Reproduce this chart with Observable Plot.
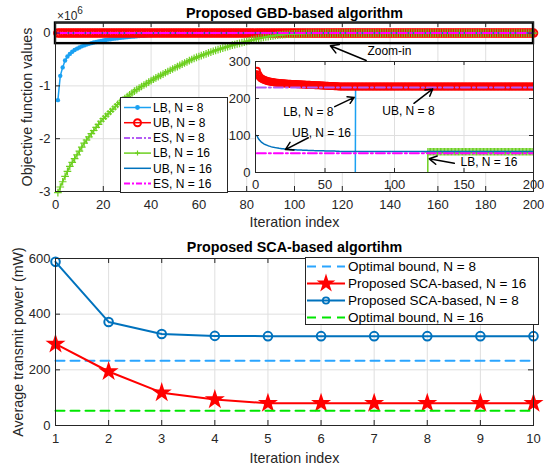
<!DOCTYPE html>
<html><head><meta charset="utf-8">
<script src="https://cdn.jsdelivr.net/npm/d3@7"></script>
<script src="https://cdn.jsdelivr.net/npm/@observablehq/plot@0.6"></script>
<style>
body{margin:0;background:#fff;font-family:"Liberation Sans",Arial,Helvetica,sans-serif;}
#root{position:relative;width:544px;height:466px;overflow:hidden;background:#fff}
</style></head><body><div id="root"></div>
<script>
// ================= DATA =================
// --- Top panel: Proposed GBD-based algorithm (iteration index 1..200) ---
const gbdIterMax = 200;
// LB, N = 8 before convergence (iterations 1..71), values in units of 10^3
const lbN8Pre = [
  -1270,-810,-650,-520,-445,-395,-355,-322,-295,-272,
  -252,-234,-218,-204,-191,-179,-168,-158,-149,-140,
  -132,-124,-117,-110,-104,-98,-92,-87,-82,-77,
  -73,-68,-64,-60,-56,-53,-50,-46,-43,-40,
  -37,-35,-32,-30,-28,-26,-24,-22,-20,-19,
  -17,-16,-15,-13,-12,-11,-10,-9,-8,-7,
  -7,-6,-5,-5,-4,-4,-3,-3,-2,-2,-1];
const lbN8ConvIter = 72, lbN8Conv = 232.5;
// UB, N = 8 (iterations 1..60), converged value afterwards
const ubN8Pre = [
  275,265,259,255,252.5,250.5,249,247.8,246.8,246,
  245.2,244.5,243.9,243.4,242.9,242.5,242.1,241.7,241.4,241.1,
  240.8,240.5,240.2,240,239.7,239.5,239.3,239.1,238.9,238.7,
  238.5,238.3,238.1,237.9,237.7,237.5,237.3,237.1,236.9,236.7,
  236.5,236.3,236.1,235.9,235.7,235.5,235.3,235.1,234.9,234.7,
  234.5,234.3,234.1,233.9,233.7,233.5,233.3,233.1,232.9,232.7];
const ubN8Tail = 232.5;
const esN8 = 230;
// LB, N = 16 before convergence (iterations 1..123), values in units of 10^3
const lbN16Pre = [
  -3020,-2915,-2815,-2715,-2620,-2525,-2450,-2378,-2305,-2235,
  -2160,-2085,-2025,-1965,-1905,-1845,-1785,-1728,-1670,-1622,
  -1575,-1530,-1485,-1440,-1395,-1350,-1312,-1276,-1240,-1205,
  -1170,-1135,-1100,-1070,-1040,-1012,-984,-956,-928,-900,
  -874,-849,-824,-800,-776,-752,-728,-704,-680,-657,
  -634,-611,-589,-567,-545,-523,-501,-480,-462,-444,
  -427,-410,-393,-376,-360,-344,-328,-313,-298,-284,
  -270,-256,-243,-230,-218,-206,-194,-182,-170,-158,
  -146,-135,-124,-113,-103,-93,-84,-75,-67,-59,
  -52,-46,-40,-35,-30,-26,-22,-19,-16,-14,
  -12,-10,-9,-8,-7,-6,-5,-4,-4,-3,
  -3,-3,-2,-2,-2,-2,-1,-1,-1,-1,
  -1,-1,-1];
const lbN16ConvIter = 124, lbN16Conv = 56;
// UB, N = 16 (iterations 1..60), converged value afterwards
const ubN16Pre = [
  100,92,87,83,80,77.5,75.5,74,72.5,71.2,
  70,69,68.1,67.3,66.6,66,65.4,64.9,64.4,64,
  63.6,63.2,62.9,62.6,62.3,62,61.8,61.5,61.3,61.1,
  60.9,60.7,60.5,60.3,60.2,60,59.9,59.7,59.6,59.5,
  59.4,59.2,59.1,59,58.9,58.8,58.7,58.6,58.5,58.4,
  58.3,58.2,58.1,58,58,57.9,57.8,57.7,57.7,57.6];
const ubN16Tail = 56.5;
const esN16 = 52;
const mainXTicks = [0,20,40,60,80,100,120,140,160,180,200];
const mainYTicks = [-3,-2,-1,0];          // x 10^6
const insetXTicks = [0,50,100,150,200];
const insetYTicks = [0,100,200,300];

// --- Bottom panel: Proposed SCA-based algorithm ---
const scaIter = [1,2,3,4,5,6,7,8,9,10];
const scaN8  = [588,372,329,322,321,321,321,321,321,321];
const scaN16 = [293,194,118,93,80,80,80,80,80,80];
const optN8 = 233, optN16 = 53;
const scaYTicks = [0,200,400,600];

// ================= STYLE =================
const FONT = '"Liberation Sans", Arial, Helvetica, sans-serif';
const AX = "#262626", GRID = "#dfdfdf";
const C = {lb8:"#1ba1f2", ub8:"#ff0000", es8:"#b45cf5", lb16:"#6ccf1f", ub16:"#0072bd", es16:"#ff00ff",
           opt8:"#2aa5ff", opt16:"#00e600", sca16:"#ff0000", sca8:"#0072bd"};
const DASHDOT = "9,3,2,3", DASH = "9,6";

const root = document.getElementById("root");
function place(el, left, top){ el.style.position="absolute"; el.style.left=left+"px"; el.style.top=top+"px"; root.appendChild(el); return el; }

// ================= SERIES =================
const iters = d3.range(1, gbdIterMax + 1);
const lbN8 = iters.map(i => ({i, v: i < lbN8ConvIter ? lbN8Pre[i-1]*1e3 : lbN8Conv}));
const ubN8 = iters.map(i => ({i, v: i <= ubN8Pre.length ? ubN8Pre[i-1] : ubN8Tail}));
const lbN16 = iters.map(i => ({i, v: i < lbN16ConvIter ? lbN16Pre[i-1]*1e3 : lbN16Conv}));
const ubN16 = iters.map(i => ({i, v: i <= ubN16Pre.length ? ubN16Pre[i-1] : ubN16Tail}));
const hline = val => [{i:1, v:val}, {i:gbdIterMax, v:val}];
const e6 = d => d.v / 1e6;
const hy = d => (d < 0 ? "-" + Math.abs(d) : String(d));

function inwardTicks(xt, yt, fw, fh, len=5){
  return [
    Plot.tickX(xt, {x:d=>d, stroke:AX, insetTop:fh-len}),
    Plot.tickX(xt, {x:d=>d, stroke:AX, insetBottom:fh-len}),
    Plot.tickY(yt, {y:d=>d, stroke:AX, insetRight:fw-len}),
    Plot.tickY(yt, {y:d=>d, stroke:AX, insetLeft:fw-len})
  ];
}
const baseStyle = {fontFamily:FONT, fontSize:"13px", color:AX, background:"transparent", overflow:"visible"};
const MID = {textAnchor:"middle", lineAnchor:"middle"};

// ================= TOP MAIN =================
const zoomBox = {x1:0, x2:200, y1:-0.2, y2:0.19};
const zoomArrow = {x1:130, y1:-0.52, x2:115, y2:-0.24};
const zoomText = {x:130.5, y:-0.35, label:"Zoom-in"};
const topPlot = Plot.plot({
  width:544, height:225, marginTop:22, marginBottom:34, marginLeft:55, marginRight:11,
  style:baseStyle,
  x:{domain:[0,200]}, y:{domain:[-3,0.2]},
  marks:[
    Plot.gridX(mainXTicks, {stroke:GRID, strokeOpacity:1}),
    Plot.gridY(mainYTicks, {stroke:GRID, strokeOpacity:1}),
    Plot.line(lbN8, {x:"i", y:e6, stroke:C.lb8, strokeWidth:1.5}),
    Plot.dot(lbN8, {x:"i", y:e6, fill:C.lb8, r:2.2}),
    Plot.line(ubN8, {x:"i", y:e6, stroke:C.ub8, strokeWidth:1.5}),
    Plot.dot(ubN8, {x:"i", y:e6, stroke:C.ub8, r:3.8, strokeWidth:2}),
    Plot.line(hline(esN8), {x:"i", y:e6, stroke:C.es8, strokeWidth:2, strokeDasharray:DASHDOT}),
    Plot.line(lbN16, {x:"i", y:e6, stroke:C.lb16, strokeWidth:1.5}),
    Plot.dot(lbN16, {x:"i", y:e6, stroke:C.lb16, symbol:"plus", r:2.6, strokeWidth:1.2}),
    Plot.line(ubN16, {x:"i", y:e6, stroke:C.ub16, strokeWidth:1.5}),
    Plot.line(hline(esN16), {x:"i", y:e6, stroke:C.es16, strokeWidth:2, strokeDasharray:DASHDOT}),
    Plot.rect([zoomBox], {x1:d=>d.x1, x2:d=>d.x2, y1:d=>d.y1, y2:d=>d.y2, fill:"none", stroke:"#000", strokeWidth:2.4}),
    Plot.frame({stroke:AX}),
    ...inwardTicks(mainXTicks, mainYTicks, 478, 169),
    Plot.axisX(mainXTicks, {tickSize:0, tickPadding:8, label:null}),
    Plot.axisY(mainYTicks, {tickSize:0, tickPadding:5, tickFormat:hy, label:null}),
    Plot.arrow([zoomArrow], {x1:d=>d.x1, y1:d=>d.y1, x2:d=>d.x2, y2:d=>d.y2, stroke:"#000", strokeWidth:1.5, headLength:9}),
    Plot.text([zoomText], {x:"x", y:"y", text:"label", textAnchor:"start", fontSize:12, fill:"#000"}),
    Plot.text(["Proposed GBD-based algorithm"], {...MID, frameAnchor:"top", dy:-9, fontWeight:"bold", fontSize:14.3, fill:"#000"}),
    Plot.text(["Iteration index"], {...MID, frameAnchor:"bottom", dy:31, fontSize:14.3}),
    Plot.text(["Objective function values"], {...MID, frameAnchor:"left", dx:-28, rotate:-90, fontSize:14.3})
  ]
});
place(topPlot, 0, 0);

// ×10^6 exponent label
const expo = document.createElement("div");
expo.innerHTML = '×10<sup style="font-size:10px;position:relative;top:-1px">6</sup>';
expo.style.cssText = `font-family:${FONT};font-size:12px;color:${AX};line-height:12px;`;
place(expo, 57, 6);

// ================= INSET =================
const insetNotes = [
  {x:38, y:163, label:"LB, N = 8"},
  {x:110, y:166, label:"UB, N = 8"},
  {x:47.5, y:107, label:"UB, N = 16"},
  {x:168, y:28, label:"LB, N = 16"}
];
const insetArrows = [
  {x1:57, y1:178, x2:71, y2:203},
  {x1:114, y1:187, x2:127.5, y2:226},
  {x1:38, y1:94, x2:21.5, y2:62},
  {x1:143, y1:25, x2:125, y2:37}
];
const insetPlot = Plot.plot({
  width:544, height:225, marginTop:61, marginBottom:53, marginLeft:255, marginRight:11,
  style:baseStyle,
  x:{domain:[0,200]}, y:{domain:[0,300]},
  marks:[
    Plot.frame({fill:"#fff", stroke:null}),
    Plot.gridX(insetXTicks, {stroke:GRID, strokeOpacity:1}),
    Plot.gridY(insetYTicks, {stroke:GRID, strokeOpacity:1}),
    Plot.line(lbN8, {x:"i", y:"v", stroke:C.lb8, strokeWidth:1.5, clip:true}),
    Plot.line(ubN8, {x:"i", y:"v", stroke:C.ub8, strokeWidth:1.5, clip:true}),
    Plot.dot(ubN8, {x:"i", y:"v", stroke:C.ub8, r:3, strokeWidth:2, clip:true}),
    Plot.line(hline(esN8), {x:"i", y:"v", stroke:C.es8, strokeWidth:2, strokeDasharray:DASHDOT, clip:true}),
    Plot.line(lbN16, {x:"i", y:"v", stroke:C.lb16, strokeWidth:1.5, clip:true}),
    Plot.dot(lbN16.filter(d => d.v >= 0), {x:"i", y:"v", stroke:C.lb16, symbol:"plus", r:2.6, strokeWidth:1.2, clip:true}),
    Plot.line(ubN16, {x:"i", y:"v", stroke:C.ub16, strokeWidth:1.5, clip:true}),
    Plot.line(hline(esN16), {x:"i", y:"v", stroke:C.es16, strokeWidth:2, strokeDasharray:DASHDOT, clip:true}),
    Plot.frame({stroke:AX}),
    ...inwardTicks(insetXTicks, insetYTicks, 278, 111, 4),
    Plot.axisX(insetXTicks, {tickSize:0, tickPadding:7, label:null}),
    Plot.axisY(insetYTicks, {tickSize:0, tickPadding:5, label:null}),
    Plot.arrow(insetArrows, {x1:"x1", y1:"y1", x2:"x2", y2:"y2", stroke:"#000", strokeWidth:1.5, headLength:9}),
    Plot.text(insetNotes, {x:"x", y:"y", text:"label", fontSize:12, fill:"#000"})
  ]
});
place(insetPlot, 0, 0);

// ================= LEGENDS =================
function buildLegend(entries, o){
  const svg = d3.create("svg").attr("width", o.w).attr("height", o.h)
    .style("font-family", FONT).style("font-size", o.fs + "px").style("overflow","visible");
  svg.append("rect").attr("x",0.5).attr("y",0.5).attr("width",o.w-1).attr("height",o.h-1)
    .attr("fill","#fff").attr("stroke",AX).attr("stroke-width",1);
  entries.forEach((e, k) => {
    const y = o.y0 + k*o.dy;
    const g = svg.append("g");
    g.append("line").attr("x1",o.l1).attr("x2",o.l2).attr("y1",y).attr("y2",y)
      .attr("stroke",e.color).attr("stroke-width",e.sw||1.5).attr("stroke-dasharray",e.dash||null);
    const mx = (o.l1+o.l2)/2;
    if (e.marker === "dot") g.append("circle").attr("cx",mx).attr("cy",y).attr("r",2.4).attr("fill",e.color);
    if (e.marker === "circle") g.append("circle").attr("cx",mx).attr("cy",y).attr("r",e.mr||3.5).attr("fill","none").attr("stroke",e.color).attr("stroke-width",e.msw||1.5);
    if (e.marker === "plus") g.append("path").attr("d",`M${mx-2.5},${y}H${mx+2.5}M${mx},${y-2.5}V${y+2.5}`).attr("stroke",e.color).attr("stroke-width",1.2);
    if (e.marker === "star") g.append("path").attr("transform",`translate(${mx},${y})`).attr("d",d3.symbol(d3.symbolStar, 110)()).attr("fill",e.color);
    g.append("text").attr("x",o.tx).attr("y",y).attr("dy","0.36em").attr("fill","#000").text(e.label);
  });
  return svg.node();
}
place(buildLegend([
  {label:"LB, N = 8", color:C.lb8, marker:"dot"},
  {label:"UB, N = 8", color:C.ub8, marker:"circle", msw:2},
  {label:"ES, N = 8", color:C.es8, dash:"6,2,2,2", sw:2},
  {label:"LB, N = 16", color:C.lb16, marker:"plus"},
  {label:"UB, N = 16", color:C.ub16},
  {label:"ES, N = 16", color:C.es16, dash:"6,2,2,2", sw:2}
], {w:108, h:96, fs:12, y0:10.5, dy:15.2, l1:4, l2:31, tx:33}), 120, 97);

// ================= BOTTOM =================
const sca8 = scaIter.map((it,k) => ({it, v:scaN8[k]}));
const sca16 = scaIter.map((it,k) => ({it, v:scaN16[k]}));
const optLine = val => [{it:scaIter[0], v:val}, {it:scaIter[scaIter.length-1], v:val}];
const bottomPlot = Plot.plot({
  width:544, height:241, marginTop:33, marginBottom:41, marginLeft:55, marginRight:11,
  style:baseStyle,
  x:{domain:[1,10]}, y:{domain:[0,600]},
  marks:[
    Plot.gridX(scaIter, {stroke:GRID, strokeOpacity:1}),
    Plot.gridY(scaYTicks, {stroke:GRID, strokeOpacity:1}),
    Plot.line(optLine(optN8), {x:"it", y:"v", stroke:C.opt8, strokeWidth:2, strokeDasharray:DASH}),
    Plot.line(sca16, {x:"it", y:"v", stroke:C.sca16, strokeWidth:2}),
    Plot.dot(sca16, {x:"it", y:"v", fill:C.sca16, symbol:"star", r:6.3}),
    Plot.line(sca8, {x:"it", y:"v", stroke:C.sca8, strokeWidth:2}),
    Plot.dot(sca8, {x:"it", y:"v", stroke:C.sca8, r:4.3, strokeWidth:2}),
    Plot.line(optLine(optN16), {x:"it", y:"v", stroke:C.opt16, strokeWidth:2, strokeDasharray:DASH}),
    Plot.frame({stroke:AX}),
    ...inwardTicks(scaIter, scaYTicks, 478, 167),
    Plot.axisX(scaIter, {tickSize:0, tickPadding:8, label:null}),
    Plot.axisY(scaYTicks, {tickSize:0, tickPadding:5, label:null}),
    Plot.text(["Proposed SCA-based algortihm"], {...MID, frameAnchor:"top", dy:-11, fontWeight:"bold", fontSize:14.3, fill:"#000"}),
    Plot.text(["Iteration index"], {...MID, frameAnchor:"bottom", dy:33, fontSize:14.3}),
    Plot.text(["Average transmit power (mW)"], {...MID, frameAnchor:"left", dx:-37, rotate:-90, fontSize:14.3})
  ]
});
place(bottomPlot, 0, 225);

place(buildLegend([
  {label:"Optimal bound, N = 8", color:C.opt8, dash:"9,6", sw:2},
  {label:"Proposed SCA-based, N = 16", color:C.sca16, marker:"star", sw:2},
  {label:"Proposed SCA-based, N = 8", color:C.sca8, marker:"circle", sw:2, mr:3.2, msw:1.8},
  {label:"Optimal bound, N = 16", color:C.opt16, dash:"9,6", sw:2}
], {w:234, h:68, fs:13.5, y0:9.5, dy:17, l1:2, l2:40, tx:43}), 305, 257);
</script></body></html>
